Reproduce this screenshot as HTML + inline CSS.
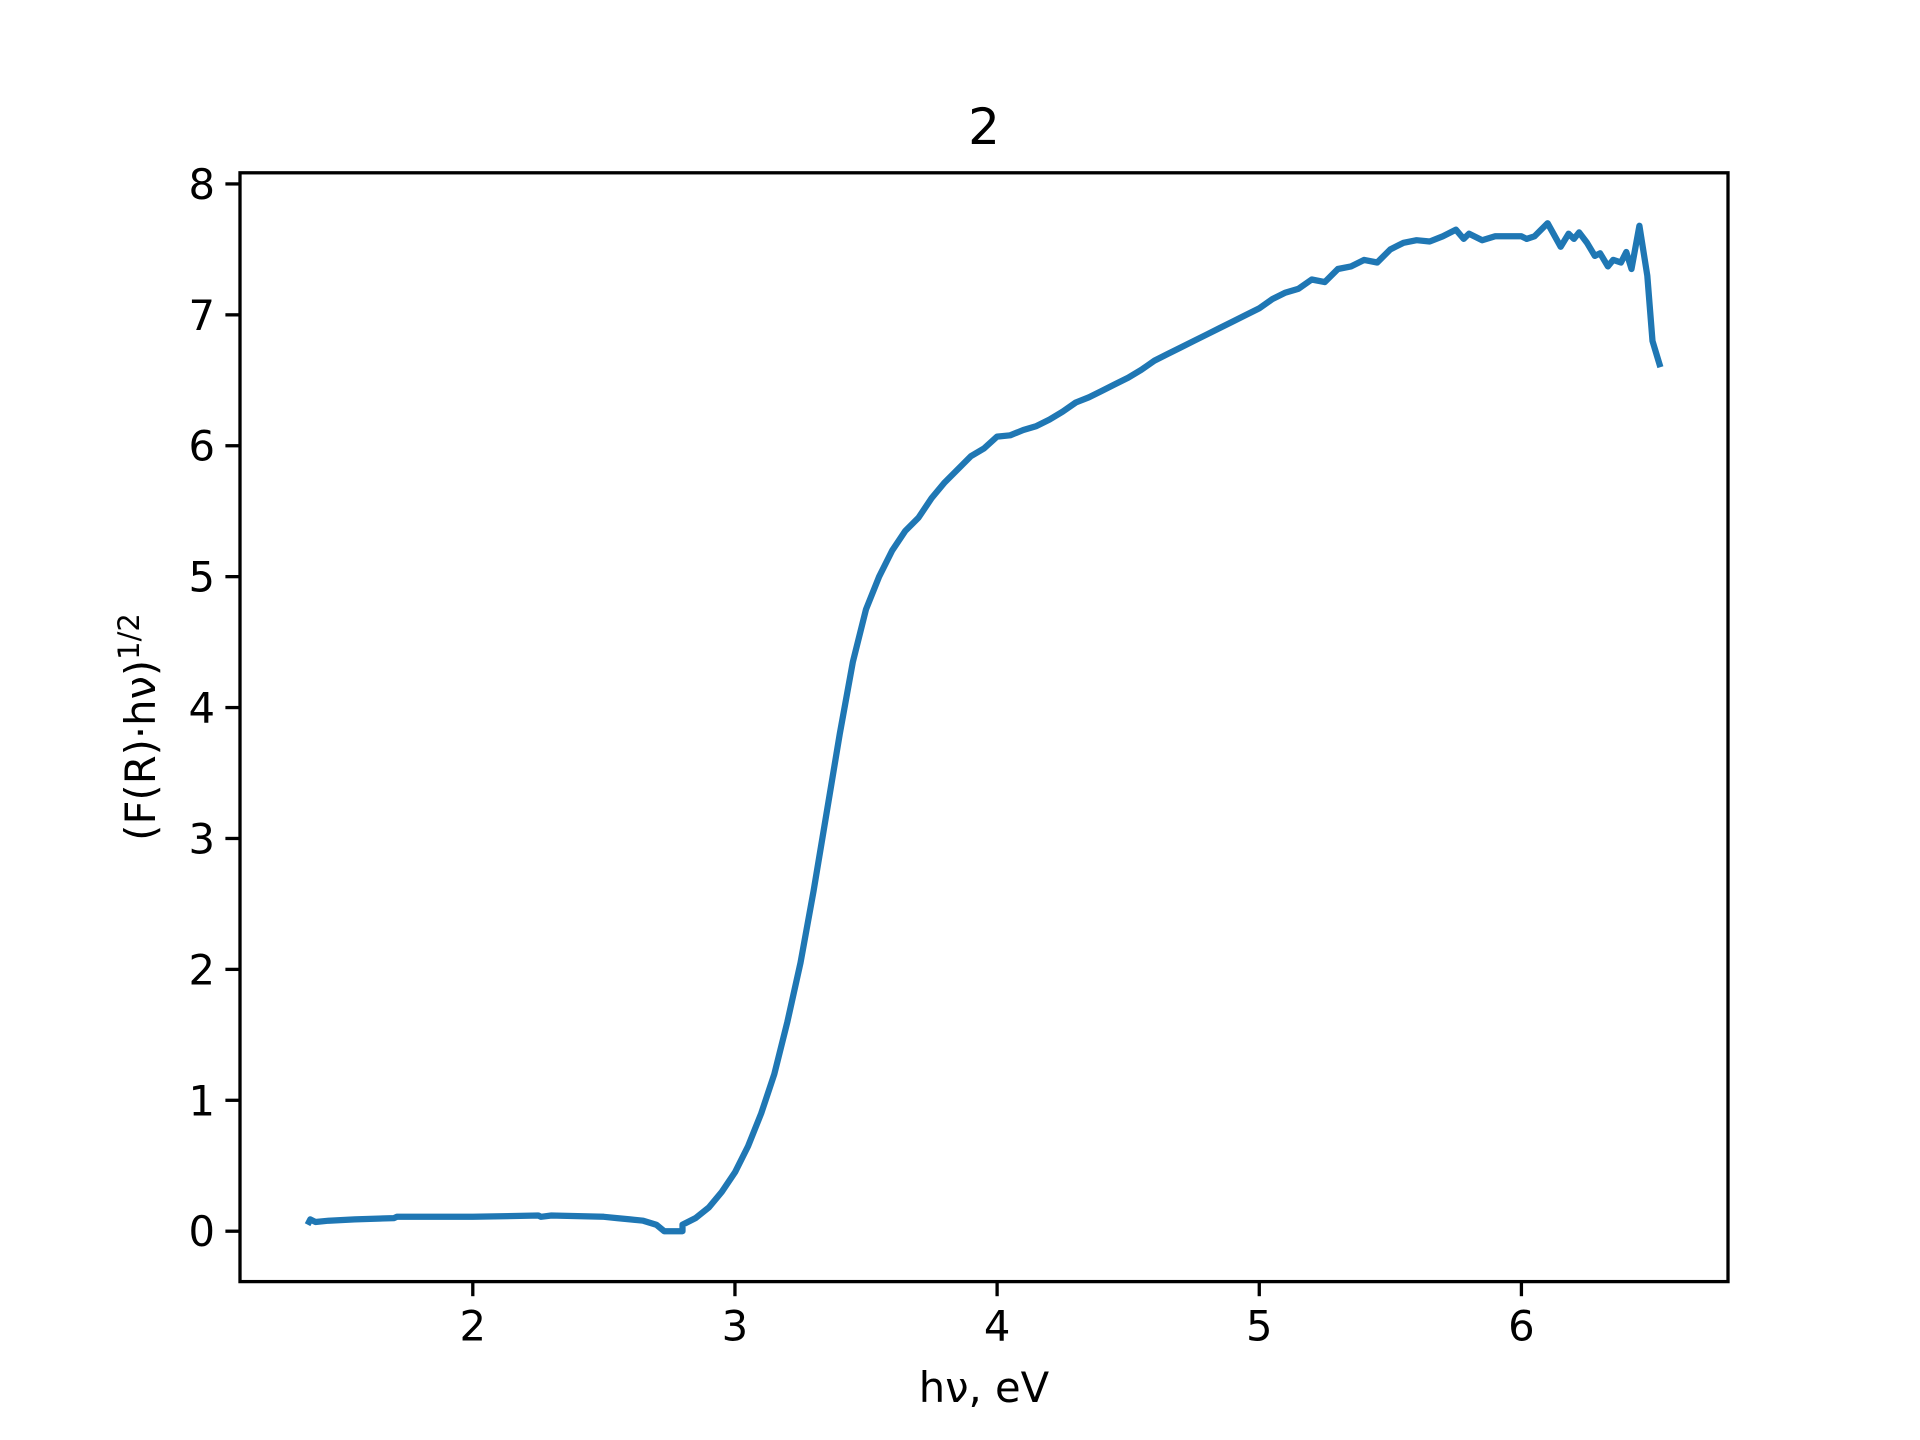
<!DOCTYPE html>
<html><head><meta charset="utf-8"><style>body{margin:0;background:#fff}svg{display:block}text{font-family:"DejaVu Sans","Liberation Sans",sans-serif}</style></head>
<body>
<svg id="chart" width="1920" height="1440" viewBox="0 0 1920 1440" xmlns="http://www.w3.org/2000/svg">
<rect width="1920" height="1440" fill="#fff"/>
<text x="984" y="144" font-size="50" text-anchor="middle">2</text>
<g id="plot"></g>
<rect x="240" y="172.8" width="1488" height="1108.8" fill="none" stroke="#000" stroke-width="3.3"/>
<g id="axes"></g>
<text x="984" y="1402" font-size="41.7" text-anchor="middle">hν, eV</text>
<text transform="translate(155,727) rotate(-90)" font-size="41.7" text-anchor="middle">(F(R)·hν)<tspan font-size="29" dy="-16">1/2</tspan></text>
</svg>
<script>
const xs=[1.37,1.38,1.40,1.45,1.55,1.7,1.71,2.0,2.25,2.26,2.3,2.5,2.55,2.6,2.65,2.7,2.73,2.8,2.8,2.85,2.9,2.95,3.0,3.05,3.1,3.15,3.2,3.25,3.3,3.35,3.4,3.45,3.5,3.55,3.6,3.65,3.7,3.75,3.8,3.85,3.9,3.95,4.0,4.05,4.1,4.15,4.2,4.25,4.3,4.35,4.4,4.45,4.5,4.55,4.6,4.65,4.7,4.75,4.8,4.85,4.9,4.95,5.0,5.05,5.1,5.15,5.2,5.25,5.3,5.35,5.4,5.45,5.5,5.55,5.6,5.65,5.7,5.75,5.78,5.8,5.85,5.9,5.95,6.0,6.02,6.05,6.1,6.15,6.18,6.2,6.22,6.25,6.28,6.3,6.33,6.35,6.38,6.4,6.42,6.45,6.48,6.5,6.53];
const ys=[0.05,0.09,0.07,0.08,0.09,0.10,0.11,0.11,0.12,0.11,0.12,0.11,0.10,0.09,0.08,0.05,0.0,0.0,0.05,0.1,0.18,0.3,0.45,0.65,0.9,1.2,1.6,2.05,2.6,3.2,3.8,4.35,4.75,5.0,5.2,5.35,5.45,5.6,5.72,5.82,5.92,5.98,6.07,6.08,6.12,6.15,6.2,6.26,6.33,6.37,6.42,6.47,6.52,6.58,6.65,6.7,6.75,6.8,6.85,6.9,6.95,7.0,7.05,7.12,7.17,7.2,7.27,7.25,7.35,7.37,7.42,7.4,7.5,7.55,7.57,7.56,7.6,7.65,7.58,7.62,7.57,7.6,7.6,7.6,7.58,7.6,7.7,7.52,7.62,7.58,7.63,7.55,7.45,7.47,7.37,7.42,7.4,7.48,7.35,7.68,7.3,6.8,6.6];
const xTicks=[2,3,4,5,6];
const yTicks=[0,1,2,3,4,5,6,7,8];
const X0=240,X1=1728,Y0=1281.6,Y1=172.8,xmin=1.112,xmax=6.788,ymin=-0.385,ymax=8.085;
const sx=v=>X0+(v-xmin)/(xmax-xmin)*(X1-X0);
const sy=v=>Y0-(v-ymin)/(ymax-ymin)*(Y0-Y1);
const NS="http://www.w3.org/2000/svg";
const plot=document.getElementById('plot'),axes=document.getElementById('axes');
const line=document.createElementNS(NS,'path');


line.setAttribute('d',xs.map((x,i)=>(i?'L':'M')+sx(x).toFixed(1)+','+sy(ys[i]).toFixed(1)).join(''));
line.setAttribute('fill','none');line.setAttribute('stroke','#1f77b4');line.setAttribute('stroke-width','6.25');line.setAttribute('stroke-linejoin','round');
plot.appendChild(line);
xTicks.forEach(t=>{const x=sx(t);
const l=document.createElementNS(NS,'line');


l.setAttribute('x1',x);l.setAttribute('x2',x);l.setAttribute('y1',Y0);l.setAttribute('y2',Y0+14.6);l.setAttribute('stroke','#000');l.setAttribute('stroke-width','3.3');axes.appendChild(l);
const tx=document.createElementNS(NS,'text');


tx.setAttribute('x',x);tx.setAttribute('y',Y0+59);tx.setAttribute('font-size','41.7');tx.setAttribute('text-anchor','middle');tx.textContent=t;axes.appendChild(tx);});
yTicks.forEach(t=>{const y=sy(t);
const l=document.createElementNS(NS,'line');


l.setAttribute('x1',X0-14.6);l.setAttribute('x2',X0);l.setAttribute('y1',y);l.setAttribute('y2',y);l.setAttribute('stroke','#000');l.setAttribute('stroke-width','3.3');axes.appendChild(l);
const tx=document.createElementNS(NS,'text');


tx.setAttribute('x',X0-25);tx.setAttribute('y',y+15);tx.setAttribute('font-size','41.7');tx.setAttribute('text-anchor','end');tx.textContent=t;axes.appendChild(tx);});
</script>
</body></html>
